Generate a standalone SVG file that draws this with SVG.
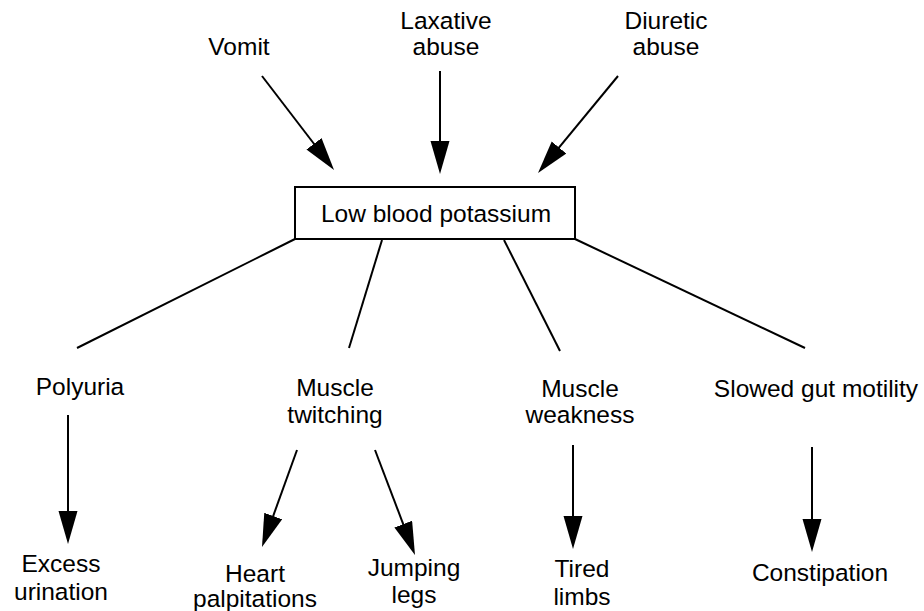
<svg xmlns="http://www.w3.org/2000/svg" width="924" height="611" viewBox="0 0 924 611">
<style>
text{font-family:"Liberation Sans",Arial,sans-serif;font-size:24.5px;fill:#000;text-anchor:middle}
.c line{stroke:#000;stroke-width:2;fill:none}
.a{marker-end:url(#ah)}
</style>
<defs>
<marker id="ah" markerUnits="userSpaceOnUse" markerWidth="34" markerHeight="20" refX="28" refY="9.5" orient="auto">
<path d="M0,0 L33,9.5 L0,19 Z" fill="#000"/>
</marker>
</defs>
<rect width="924" height="611" fill="#fff"/>
<g id="vomit"><text x="239" y="55">Vomit</text></g>
<g id="laxative"><text x="446" y="29">Laxative</text><text x="446" y="55">abuse</text></g>
<g id="diuretic"><text x="666" y="29">Diuretic</text><text x="666" y="55">abuse</text></g>
<g id="low"><rect x="295" y="187" width="280" height="52" fill="#fff" stroke="#000" stroke-width="2"/><text x="436" y="222">Low blood potassium</text></g>
<g id="polyuria"><text x="80" y="395">Polyuria</text></g>
<g id="twitching"><text x="335" y="396">Muscle</text><text x="335" y="423">twitching</text></g>
<g id="weakness"><text x="580" y="397">Muscle</text><text x="580" y="423">weakness</text></g>
<g id="gut"><text x="816" y="397">Slowed gut motility</text></g>
<g id="excess"><text x="61" y="572">Excess</text><text x="61" y="600">urination</text></g>
<g id="heart"><text x="255" y="582">Heart</text><text x="255" y="607">palpitations</text></g>
<g id="jumping"><text x="414" y="576">Jumping</text><text x="414" y="603">legs</text></g>
<g id="tired"><text x="582" y="577">Tired</text><text x="582" y="605">limbs</text></g>
<g id="constipation"><text x="820" y="581">Constipation</text></g>
<g id="connectors" class="c">
<line class="a" x1="262" y1="76" x2="331" y2="166"/>
<line class="a" x1="440" y1="71" x2="440" y2="169"/>
<line class="a" x1="618" y1="76" x2="541.2" y2="169.1"/>
<line x1="295" y1="239" x2="77" y2="348"/>
<line x1="382" y1="240" x2="349" y2="348"/>
<line x1="504" y1="240" x2="560" y2="351"/>
<line x1="575" y1="239" x2="805" y2="348"/>
<line class="a" x1="68" y1="415" x2="68" y2="539"/>
<line class="a" x1="297" y1="450" x2="263.7" y2="542.3"/>
<line class="a" x1="375" y1="450" x2="413.2" y2="550.3"/>
<line class="a" x1="573" y1="445" x2="573" y2="544"/>
<line class="a" x1="812" y1="447" x2="812" y2="547"/>
</g>
</svg>
